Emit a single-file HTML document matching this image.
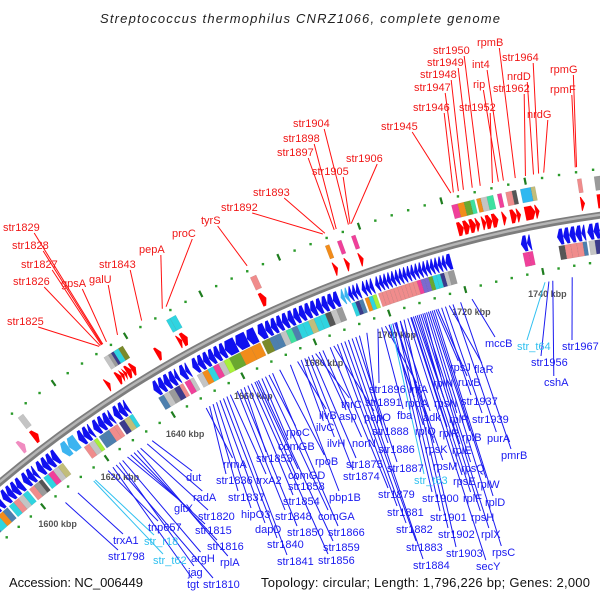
<!DOCTYPE html>
<html><head><meta charset="utf-8"><style>
html,body{margin:0;padding:0;background:#fff;}
svg{display:block;font-family:"Liberation Sans",sans-serif;}
</style></head><body>
<svg id="chart" width="600" height="600" viewBox="0 0 600 600" xmlns="http://www.w3.org/2000/svg">
<text x="100" y="23" font-size="13" font-style="italic" fill="#222" textLength="400" lengthAdjust="spacing">Streptococcus thermophilus CNRZ1066, complete genome</text>
<g id="rings"></g>
<g id="leaders"></g>
<g id="labels"></g>
<text x="9" y="587" font-size="13" fill="#111" textLength="134" lengthAdjust="spacing">Accession: NC_006449</text>
<text x="261" y="587" font-size="13" fill="#111" textLength="329" lengthAdjust="spacing">Topology: circular; Length: 1,796,226 bp; Genes: 2,000</text>
</svg>
<script>
// ---- data ----
const genomeLengthKbp = 1796.226;
const tickKbp = [1600,1620,1640,1660,1680,1700,1720,1740];
const tickLabels = ["1600 kbp","1620 kbp","1640 kbp","1660 kbp","1680 kbp","1700 kbp","1720 kbp","1740 kbp"];
// reverse-strand genes [start kbp, end kbp, COG color key]
const reverseGenes = [
[1586,1588,'b'],[1588,1590,'c'],[1590,1591.5,'O'],[1591.5,1593,'b'],[1593.5,1595,'c'],[1595,1596.5,'r'],[1596.5,1598,'s'],[1598,1599.5,'c'],[1600,1601.5,'r'],[1601.5,1603,'y'],[1603,1604,'d'],[1604.5,1606,'c'],[1606,1607.5,'p'],[1607.5,1609,'s'],[1609,1610.5,'k'],
[1617,1618.5,'r'],[1618.5,1620,'s'],[1620,1621,'G'],[1621.5,1623,'b'],[1623,1624.5,'b'],[1624.5,1626,'r'],[1626,1627,'r'],[1627.5,1629,'n'],[1629,1630.5,'k'],[1630.5,1631.5,'c'],
[1639,1640.5,'b'],[1640.5,1642,'s'],[1642,1643.5,'y'],[1643.5,1645,'n'],[1645,1646,'r'],[1646.5,1648,'p'],[1648,1649,'s'],
[1650,1651.5,'s'],[1651.5,1653,'O'],[1653,1654.5,'c'],[1654.5,1656,'p'],[1656,1657.5,'s'],[1657.5,1659,'G'],[1659,1662,'g'],[1662,1665,'O'],[1665,1667.5,'O'],[1668,1670,'o'],
[1670,1671.5,'b'],[1671.5,1673,'b'],[1673,1674.5,'s'],[1674.5,1676,'m'],[1676,1677.5,'b'],[1677.5,1679,'c'],[1679,1680.5,'c'],[1680.5,1682,'k'],[1682,1683.5,'c'],[1683.5,1685,'c'],[1685,1686.5,'d'],[1686.5,1688,'s'],[1688,1689.5,'y'],
[1692,1693,'c'],[1693,1694,'n'],[1694,1695,'b'],[1695.5,1696.5,'O'],[1696.5,1697.5,'c'],[1697.5,1698.5,'G'],
[1699,1700,'r'],[1700,1701,'r'],[1701,1702,'r'],[1702,1703,'r'],[1703,1704,'r'],[1704,1705,'r'],[1705,1706,'r'],[1706,1707,'r'],[1707,1708,'r'],[1708,1709,'r'],[1709,1710,'p'],[1710,1711,'v'],[1711,1712,'v'],[1712,1713,'g'],[1713,1714,'c'],[1714,1715,'c'],[1715,1716,'n'],[1716,1717,'s'],[1717,1718.5,'y'],
[1736,1737.5,'p'],[1737.5,1738.5,'p'],
[1745,1746.5,'d'],[1746.5,1748,'r'],[1748,1749.5,'r'],[1749.5,1751,'r'],[1751,1752,'b'],[1752.5,1754,'s'],[1754,1755.5,'n'],[1755.5,1757,'s'],[1757,1759,'r'],[1759,1761,'y']
];
// RNA genes on reverse strand (light blue arrows)
const reverseRna = [[1612,1614],[1614,1616.5],[1690,1691],[1691,1692]];
// forward-strand genes [start, end, color key or '' when no block]
const forwardGenes = [
[1604.5,1606,'_'],[1608.5,1610,'s'],[1630,1631,''],
[1633,1634.2,'s'],[1634.2,1635,'y'],[1635,1635.7,'n'],[1635.7,1637,'c'],[1637,1638.2,'o'],
[1644,1645.3,''],[1650,1651,'c'],[1651,1652.5,'c'],[1672,1673.5,'r'],
[1691,1692,'O'],[1694,1695,'p'],[1697.5,1698.5,'p'],
[1722,1723.5,'p'],[1723.5,1725,'O'],[1725,1726.5,'g'],[1726.5,1727.5,'m'],[1728,1729,'O'],[1729,1730.5,'s'],[1730.5,1732,'m'],[1733,1734,'p'],[1735,1736.5,'r'],[1736.5,1737.5,'d'],[1738.5,1741,'l'],[1741,1742,'k'],
[1752,1753,'r'],[1756,1758,'y']
];
// labels: [name, kbp, labelX, labelCenterY]
const forwardLabels = [
["str1829",1634.5,3,227],["str1828",1634.3,12,245],["str1827",1634.1,21,264],["str1826",1633.8,13,281],["str1825",1633.5,7,321],
["gpsA",1635.5,61,283],["galU",1638.5,89,279],["str1843",1645,99,264],["pepA",1650.5,139,249],["proC",1651.5,172,233],
["tyrS",1672.5,201,220],["str1892",1691.5,221,207],["str1893",1692,253,192],
["str1904",1697.8,293,123],["str1898",1694.8,283,138],["str1897",1694.3,277,152],["str1905",1698.2,312,171],["str1906",1698.5,346,158],
["str1945",1722.6,381,126],["str1946",1723.2,413,107],["str1947",1724.4,414,87],["str1948",1725.6,420,74],["str1949",1727.7,427,62],["str1950",1729.6,433,50],
["str1952",1732.5,459,107],["rip",1733.9,473,84],["int4",1735.1,472,64],["rpmB",1737.9,477,42],["str1962",1740.3,493,88],["nrdD",1742.2,507,76],["str1964",1743.4,502,57],["nrdG",1744.6,527,114],
["rpmG",1752.3,550,69],["rpmF",1752,550,89]
];
const reverseLabels = [
["str1798",1605,108,556],["trxA1",1609,113,540],["tnp657",1618.5,148,527],["tgt",1620,187,584],["str1810",1621,203,584],["jag",1622,188,572],["argH",1623,191,558],
["gltX",1624.5,174,508],["str1815",1625.5,195,530],["str1816",1626.5,207,546],["rplA",1627.5,220,562],["str1820",1628.5,198,516],["radA",1630.5,193,497],["dut",1632,186,477],
["rrmA",1648,223,464],["str1836",1649,216,480],["str1837",1650,228,497],["hipO3",1651,241,514],["dapD",1652,255,529],["str1840",1653,267,544],["str1841",1654,277,561],["trxA2",1655,256,480],
["str1848",1657,275,516],["str1850",1658,287,532],["str1853",1659,256,458],["str1854",1660,283,501],["str1856",1661,318,560],["str1858",1662,288,486],["str1859",1663,323,547],
["comGD",1662.5,288,475],["comGB",1664,278,446],["comGA",1665,318,516],["rpoC",1666,286,432],["str1866",1667,328,532],["rpoB",1669,315,461],["pbp1B",1672,329,497],
["ilvB",1674,319,415],["ilvC",1675,316,427],["ilvH",1676,327,443],["str1874",1677,343,476],["str1875",1678,346,464],["thrC",1679,341,404],["asp",1680,339,416],["norN",1681,352,443],
["str1879",1683,378,494],["pepO",1684,364,417],["str1881",1685,387,512],["str1882",1686,396,529],["str1883",1687,406,547],["str1884",1688,413,565],["str1886",1689,378,449],["str1887",1690,387,468],["str1888",1691,372,431],
["str1891",1693,365,402],["str1896",1696,369,389],["fba",1697,397,415],["infA",1698,409,389],["rpoA",1699,405,403],["rplQ",1699,415,431],
["str1900",1700,422,498],["rpsM",1700.5,433,466],["rpsK",1700.8,425,449],["str1901",1701,430,517],["adk",1702,423,417],["str1902",1702,438,534],["str1903",1703,446,553],["secY",1704,476,566],
["rpsE",1704.8,453,481],["rplR",1705,439,433],["rplF",1705.5,463,498],["rplE",1706,452,450],["rpsH",1706.5,471,517],["rpsN",1707,434,403],["rplX",1707.5,481,534],["rpsQ",1708,461,468],["rplN",1708.5,433,383],
["rplP",1709,449,419],["rpsC",1709.5,492,552],["rplB",1710,462,437],["rplW",1710.5,477,484],["rplD",1711,485,502],["rpsJ",1711.5,450,367],["ruvB",1712,458,382],["str1937",1713,461,401],["str1939",1714,472,419],
["flaR",1715,474,369],["purA",1716,487,438],["pmrB",1718,501,455],["mccB",1721,485,343],["str1956",1741,531,362],["cshA",1742,544,382],["str1967",1747,562,346]
];
const rnaLabels = [["str_r18",1614.5,144,541],["str_t62",1614,153,560],["str_t63",1699.5,414,480],["str_t64",1740,517,346]];

// ---- styles / geometry ----
const palette = {b:'#4d7fae',c:'#2fd4e0',O:'#f28c1a',r:'#f08c8c',s:'#c4c4c4',y:'#9a9a9a',d:'#555',p:'#f0409a',k:'#c2bd7a',G:'#a8f03a',n:'#3b3b8c',g:'#6aa82f',o:'#7a8a2a',m:'#3ee0a0',l:'#30b8f0',v:'#7a6ad0',_:'#f7a0c8'};
const CX=763, CY=1389, A0=-39.2, DEG=360/genomeLengthKbp;
const NS='http://www.w3.org/2000/svg';
function ang(k){return (A0+(k-1600)*DEG)*Math.PI/180;}
function P(k,r){const a=ang(k);return [CX+r*Math.sin(a), CY-r*Math.cos(a)];}
function f(p){return p[0].toFixed(2)+' '+p[1].toFixed(2);}
function sector(k1,k2,r1,r2){
  return 'M'+f(P(k1,r2))+' A'+r2+' '+r2+' 0 0 1 '+f(P(k2,r2))+' L'+f(P(k2,r1))+' A'+r1+' '+r1+' 0 0 0 '+f(P(k1,r1))+'Z';
}
function arrowFwd(k1,k2,r1,r2){
  const h=Math.max(k1,k2-0.8), rm=(r1+r2)/2;
  return 'M'+f(P(k1,r2))+' A'+r2+' '+r2+' 0 0 1 '+f(P(h,r2))+' L'+f(P(k2,rm))+' L'+f(P(h,r1))+' A'+r1+' '+r1+' 0 0 0 '+f(P(k1,r1))+'Z';
}
function arrowRev(k1,k2,r1,r2){
  const h=Math.min(k2,k1+0.8), rm=(r1+r2)/2;
  return 'M'+f(P(h,r2))+' A'+r2+' '+r2+' 0 0 1 '+f(P(k2,r2))+' L'+f(P(k2,r1))+' A'+r1+' '+r1+' 0 0 0 '+f(P(h,r1))+' L'+f(P(k1,rm))+'Z';
}
function mk(tag,attrs,parent){const e=document.createElementNS(NS,tag);for(const k in attrs)e.setAttribute(k,attrs[k]);parent.appendChild(e);return e;}

const rings=document.getElementById('rings');
const leaders=document.getElementById('leaders');
const labels=document.getElementById('labels');

// backbone
let bb=mk('path',{d:'M'+f(P(1570,1185))+' A1185 1185 0 0 1 '+f(P(1770,1185)),fill:'none',stroke:'#7d7d7d','stroke-width':7},rings);


let bb2=mk('path',{d:'M'+f(P(1570,1185.5))+' A1185.5 1185.5 0 0 1 '+f(P(1770,1185.5)),fill:'none',stroke:'#b5b5b5','stroke-width':2.5},rings);



// dot rings and ticks
for(let k=1576;k<=1764;k+=4){
  const big = (k%20===0);
  for(const r of [1139,1231]){
    let e;
    if(big){
      const a=P(k,r-3.5),b=P(k,r+3.5);
      e=mk('line',{x1:a[0],y1:a[1],x2:b[0],y2:b[1],stroke:'#1f7d1f','stroke-width':2.2},rings);
      
    } else {
      const p=P(k,r);
      e=mk('rect',{x:p[0]-1.2,y:p[1]-1.2,width:2.4,height:2.4,fill:'#2a9a2a'},rings);
      
    }
    
  }
}
tickKbp.forEach((k,i)=>{
  const p=P(k,1116);
  const t=mk('text',{x:p[0],y:p[1]+3,'font-size':9,'font-weight':'bold',fill:'#555','text-anchor':'middle'},rings);
  t.textContent=tickLabels[i];
  
  
});

// reverse genes
reverseGenes.forEach(g=>{
  const a=mk('path',{d:arrowRev(g[0],g[1],1162,1178),fill:'#1010f0'},rings);
  
  
  const b=mk('path',{d:sector(g[0],g[1],1147,1161),fill:palette[g[2]],stroke:'rgba(0,0,0,0.12)','stroke-width':0.5},rings);
  
  
});
reverseRna.forEach(g=>{
  const a=mk('path',{d:arrowRev(g[0],g[1],1162,1178),fill:'#3cb4f0'},rings);
  
  
});
// forward genes
forwardGenes.forEach(g=>{
  const a=mk('path',{d:arrowFwd(g[0],g[1],1192,1206),fill:g[2]==='_'?'#f08cc0':'#ff0000'},rings);
  
  
  if(g[2] && g[2]!=='_'){
    const b=mk('path',{d:sector(g[0],g[1],1210,1224),fill:palette[g[2]],stroke:'rgba(0,0,0,0.12)','stroke-width':0.5},rings);
    
    
  }
});

// labels
function addLabel(d,color,lineColor,ringR,above){
  const t=mk('text',{x:d[2],y:d[3]+4,'font-size':11,fill:color},labels);
  t.textContent=d[0];
  
  
  const w=t.getComputedTextLength?t.getComputedTextLength():d[0].length*6;
  const p=P(d[1],ringR);
  let sx,sy;
  if(above){sx=d[2]+w*0.85; sy=d[3]+6;} else {sx=d[2]+Math.min(10,w*0.4); sy=d[3]-6;}
  const l=mk('line',{x1:sx,y1:sy,x2:p[0],y2:p[1],stroke:lineColor,'stroke-width':1},leaders);
  
  
}
forwardLabels.forEach(d=>addLabel(d,'#f01818','#ff1010',1236,true));
reverseLabels.forEach(d=>addLabel(d,'#1a1af0','#1a1af0',1128,false));
rnaLabels.forEach(d=>addLabel(d,'#30c0f0','#30c0f0',1128,false));
</script>
</body></html>
